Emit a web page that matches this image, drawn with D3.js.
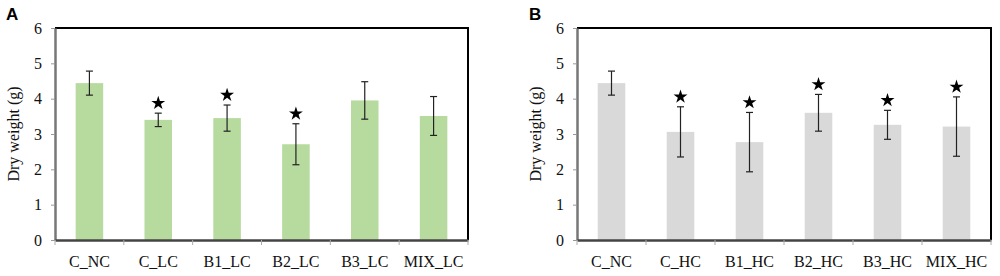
<!DOCTYPE html>
<html>
<head>
<meta charset="utf-8">
<script src="https://cdn.jsdelivr.net/npm/d3@7"></script>
<style>
  body { margin: 0; background: #fff; }
  svg { display: block; }
</style>
</head>
<body>
<svg id="chart" width="1000" height="276"></svg>
<script>
// 數據
const categoriesA = ["C_NC", "C_LC", "B1_LC", "B2_LC", "B3_LC", "MIX_LC"];
const meansA = [4.44, 3.40, 3.45, 2.71, 3.95, 3.51];
const errorsA = [0.34, 0.19, 0.37, 0.58, 0.53, 0.55];
const starsA = [false, true, true, true, false, false];

const categoriesB = ["C_NC", "C_HC", "B1_HC", "B2_HC", "B3_HC", "MIX_HC"];
const meansB = [4.44, 3.06, 2.77, 3.60, 3.26, 3.21];
const errorsB = [0.34, 0.71, 0.84, 0.52, 0.41, 0.84];
const starsB = [false, true, true, true, true, true];

const yTicks = [0, 1, 2, 3, 4, 5, 6];

const svg = d3.select("#chart");
const serif = "Liberation Serif, Times New Roman, serif";

const drawPanel = (opt) => {
    const { label, labelX, left, right, cats, means, errs, stars, color, titleX } = opt;
    const top = 28, bottom = 240;

    const xScale = d3.scaleBand()
        .domain(cats)
        .range([left, right])
        .paddingInner(0.6)
        .paddingOuter(0.3);
    const xBand = d3.scaleBand().domain(cats).range([left, right]).padding(0);

    const yScale = d3.scaleLinear().domain([0, 6]).range([bottom, top]);

    const g = svg.append("g");

    // 面板標籤
    g.append("text")
        .attr("x", labelX).attr("y", 20)
        .attr("font-family", "Liberation Sans, Arial, sans-serif")
        .attr("font-weight", "bold")
        .attr("font-size", 17)
        .text(label);

    // 框線 (top/right)
    g.append("path")
        .attr("d", `M${left},${top}H${right}V${bottom}`)
        .attr("fill", "none").attr("stroke", "#000").attr("stroke-width", 2);

    // 長條
    g.selectAll(".bar")
        .data(cats)
        .enter()
        .append("rect")
        .attr("class", "bar")
        .attr("x", d => xScale(d))
        .attr("y", (d, i) => yScale(means[i]))
        .attr("width", xScale.bandwidth())
        .attr("height", (d, i) => bottom - yScale(means[i]))
        .attr("fill", color);

    // 誤差線
    const eb = g.selectAll(".err").data(cats).enter().append("g").attr("class", "err")
        .attr("stroke", "#222").attr("stroke-width", 1.2);
    eb.append("line")
        .attr("x1", d => xScale(d) + xScale.bandwidth() / 2)
        .attr("x2", d => xScale(d) + xScale.bandwidth() / 2)
        .attr("y1", (d, i) => yScale(means[i] + errs[i]))
        .attr("y2", (d, i) => yScale(means[i] - errs[i]));
    [1, -1].forEach(s => {
        eb.append("line")
            .attr("x1", d => xScale(d) + xScale.bandwidth() / 2 - 3.5)
            .attr("x2", d => xScale(d) + xScale.bandwidth() / 2 + 3.5)
            .attr("y1", (d, i) => yScale(means[i] + s * errs[i]))
            .attr("y2", (d, i) => yScale(means[i] + s * errs[i]));
    });

    // 星號
    const star = d3.symbol().type(d3.symbolStar).size(60);
    g.selectAll(".star")
        .data(cats.filter((d, i) => stars[i]))
        .enter()
        .append("path")
        .attr("class", "star")
        .attr("d", star)
        .attr("fill", "#000")
        .attr("transform", d => {
            const i = cats.indexOf(d);
            return `translate(${xScale(d) + xScale.bandwidth() / 2}, ${yScale(means[i] + errs[i]) - 10})`;
        });

    // y 軸
    const yAxis = g.append("g")
        .attr("transform", `translate(${left}, 0)`)
        .call(d3.axisLeft(yScale).tickValues(yTicks).tickFormat(d3.format("d"))
            .tickSize(4).tickSizeOuter(0).tickPadding(9));
    yAxis.select(".domain").attr("stroke", "#777").attr("stroke-width", 2.5);
    yAxis.selectAll(".tick line").attr("stroke", "#999");
    yAxis.selectAll(".tick text")
        .attr("font-family", serif)
        .attr("font-size", 16).attr("fill", "#111");

    // x 軸
    const xAxis = g.append("g")
        .attr("transform", `translate(0, ${bottom})`)
        .call(d3.axisBottom(xBand).tickSize(0).tickPadding(16));
    xAxis.select(".domain").attr("stroke", "#444").attr("stroke-width", 2.5);
    xAxis.selectAll(".tick text")
        .attr("font-family", serif)
        .attr("font-size", 16).attr("fill", "#111");

    // x 軸分隔刻度
    g.append("g")
        .selectAll("line")
        .data(d3.range(cats.length + 1))
        .enter()
        .append("line")
        .attr("x1", i => left + i * xBand.bandwidth())
        .attr("x2", i => left + i * xBand.bandwidth())
        .attr("y1", bottom)
        .attr("y2", bottom + 5)
        .attr("stroke", "#aaa");

    // y 軸標題
    g.append("text")
        .attr("transform", `translate(${titleX}, ${(top + bottom) / 2}) rotate(-90)`)
        .attr("text-anchor", "middle")
        .attr("font-family", serif)
        .attr("font-size", 16).attr("fill", "#111")
        .text("Dry weight (g)");
};

drawPanel({ label: "A", labelX: 6, left: 55, right: 468, cats: categoriesA, means: meansA, errs: errorsA, stars: starsA, color: "#b7da9f", titleX: 19 });
drawPanel({ label: "B", labelX: 529, left: 577, right: 991, cats: categoriesB, means: meansB, errs: errorsB, stars: starsB, color: "#d9d9d9", titleX: 541 });
</script>
</body>
</html>
